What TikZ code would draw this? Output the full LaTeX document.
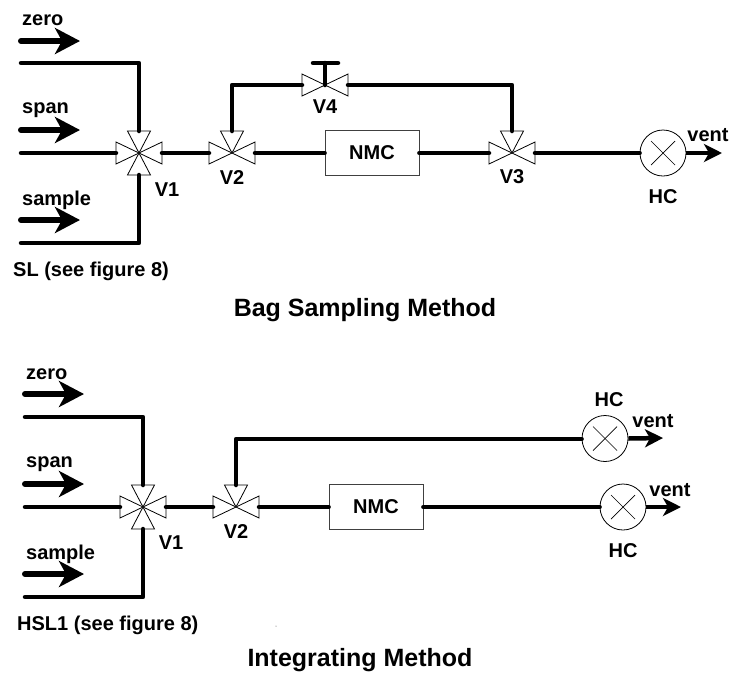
\documentclass[tikz,border=0pt]{standalone}
\usepackage{fontspec}
\setmainfont{Liberation Sans}
\usetikzlibrary{arrows.meta,calc}
\tikzset{
  x=1pt,y=-1pt,
  pipe/.style={line width=4.5pt,line cap=round,line join=round,black},
  feed/.style={line width=6pt,line cap=round,-{Stealth[length=25pt,width=26pt,inset=7pt]},black},
  ventline/.style={line width=4.5pt,-{Stealth[length=18pt,width=18pt,inset=5pt]},black},
  small/.style={font=\bfseries\fontsize{20pt}{22pt}\selectfont,inner sep=0pt,text=black},
  ttl/.style={font=\bfseries\fontsize{25pt}{27pt}\selectfont,inner sep=0pt,text=black},
  wedge/.style={draw=black,line width=0.8pt,fill=white},
  box/.style={draw=black!75,line width=0.8pt,fill=white,minimum width=94pt,minimum height=45pt,inner sep=0pt,font=\bfseries\fontsize{20pt}{22pt}\selectfont},
  det/.style={circle,draw=black,line width=0.8pt,fill=white,minimum size=46pt,inner sep=0pt},
}
% valve: name, x, y; defines ports and draws left/right wedges
\newcommand{\valvebase}[3]{%
  \coordinate (#1) at (#2,#3);
  \coordinate (#1-l) at ($(#1)+(-23,0)$);
  \coordinate (#1-r) at ($(#1)+(23,0)$);
  \coordinate (#1-t) at ($(#1)+(0,-22)$);
  \coordinate (#1-b) at ($(#1)+(0,22)$);
  \draw[wedge] (#1) -- ++(-23,-11) -- ++(0,22) -- cycle;
  \draw[wedge] (#1) -- ++(23,-11) -- ++(0,22) -- cycle;
}
\newcommand{\wedgetop}[1]{\draw[wedge] (#1) -- ++(-11.5,-22) -- ++(23,0) -- cycle;}
\newcommand{\wedgebot}[1]{\draw[wedge] (#1) -- ++(-11.5,22) -- ++(23,0) -- cycle;}
\newcommand{\crossin}[1]{%
  \draw[black,line width=0.7pt] ($(#1)+(-12,-12)$) -- ($(#1)+(12,12)$);
  \draw[black,line width=0.7pt] ($(#1)+(-12,12)$) -- ($(#1)+(12,-12)$);
}
\begin{document}
\begin{tikzpicture}
\useasboundingbox (0,0) rectangle (731,681);
% ---------- Bag Sampling Method ----------
\coordinate (zs) at (21,63); \coordinate (zc) at (139,63);
\coordinate (ss) at (21,153);
\coordinate (ps) at (21,243); \coordinate (pc) at (139,243);
\coordinate (va1) at (21,41); \coordinate (vb1) at (80,41);
\coordinate (va2) at (21,130); \coordinate (vb2) at (80,130);
\coordinate (va3) at (21,220); \coordinate (vb3) at (80,220);
\coordinate (tl) at (232,85); \coordinate (tr) at (512,85);
\coordinate (bar1) at (313,63); \coordinate (bar2) at (338,63);
\coordinate (stem) at (325,63);
\coordinate (ve1) at (722,153);

\node[box] (nmc1) at (372,153) {NMC};
\node[det] (hc1) at (663,153) {};
\crossin{hc1}

\valvebase{v1}{139}{153}\wedgetop{v1}\wedgebot{v1}
\valvebase{v2}{232}{153}\wedgetop{v2}
\valvebase{v3}{512}{153}\wedgetop{v3}
\valvebase{v4}{325}{85}

\draw[feed] (va1) -- (vb1);
\draw[feed] (va2) -- (vb2);
\draw[feed] (va3) -- (vb3);
\draw[pipe] (zs) -- (zc) -- (v1-t);
\draw[pipe] (ss) -- (v1-l);
\draw[pipe] (ps) -- (pc) -- (v1-b);
\draw[pipe] (v1-r) -- (v2-l);
\draw[pipe] (v2-r) -- (nmc1.west);
\draw[pipe] (nmc1.east) -- (v3-l);
\draw[pipe] (v3-r) -- (hc1.west);
\draw[pipe] (v2-t) -- (tl) -- (v4-l);
\draw[pipe] (v4-r) -- (tr) -- (v3-t);
\draw[pipe] (v4) -- (stem);
\draw[pipe] (bar1) -- (bar2);
\draw[ventline] (hc1.east) -- (ve1);

\node[small,anchor=west] (tz1) at (22,20) {zero};
\node[small,anchor=west] (ts1) at (22,110) {span};
\node[small,anchor=west] (tp1) at (22,200) {sample};
\node[small] (lv1a) at (167,190) {V1};
\node[small] (lv2a) at (232,178) {V2};
\node[small] (lv3a) at (512,177) {V3};
\node[small] (lv4a) at (325,107) {V4};
\node[small] (lhc1) at (663,197) {HC};
\node[small] (tv1) at (708,135) {vent};
\node[small,anchor=west] (sl) at (13,271) {SL (see figure 8)};
\node[ttl] (title1) at (365,310) {Bag Sampling Method};

% ---------- Integrating Method ----------
\coordinate (zs2) at (25,417); \coordinate (zc2) at (143,417);
\coordinate (ss2) at (25,507);
\coordinate (ps2) at (25,597); \coordinate (pc2) at (143,597);
\coordinate (wa1) at (25,394); \coordinate (wb1) at (84,394);
\coordinate (wa2) at (25,484); \coordinate (wb2) at (84,484);
\coordinate (wa3) at (25,574); \coordinate (wb3) at (84,574);
\coordinate (tl2) at (236,439);
\coordinate (ve2) at (663,438);
\coordinate (ve3) at (681,507);

\node[box] (nmc2) at (376,507) {NMC};
\node[det] (hc2) at (605,438.5) {};
\crossin{hc2}
\node[det] (hc3) at (623,507) {};
\crossin{hc3}

\valvebase{w1}{143}{507}\wedgetop{w1}\wedgebot{w1}
\valvebase{w2}{236}{507}\wedgetop{w2}

\draw[feed] (wa1) -- (wb1);
\draw[feed] (wa2) -- (wb2);
\draw[feed] (wa3) -- (wb3);
\draw[pipe] (zs2) -- (zc2) -- (w1-t);
\draw[pipe] (ss2) -- (w1-l);
\draw[pipe] (ps2) -- (pc2) -- (w1-b);
\draw[pipe] (w1-r) -- (w2-l);
\draw[pipe] (w2-r) -- (nmc2.west);
\draw[pipe] (nmc2.east) -- (hc3.west);
\draw[pipe] (w2-t) -- (tl2) -- (tl2 -| hc2.west);
\draw[ventline] (hc2.east) -- (ve2);
\draw[ventline] (hc3.east) -- (ve3);

\node[small,anchor=west] (tz2) at (26,374) {zero};
\node[small,anchor=west] (ts2) at (26,464) {span};
\node[small,anchor=west] (tp2) at (26,554) {sample};
\node[small] (lv1b) at (171,543) {V1};
\node[small] (lv2b) at (236,532) {V2};
\node[small] (lhc2) at (609,400) {HC};
\node[small] (lhc3) at (623,551) {HC};
\node[small] (tv2) at (653,421) {vent};
\node[small] (tv3) at (670,490) {vent};
\node[small,anchor=west] (hsl) at (17,625) {HSL1 (see figure 8)};
\node[ttl] (title2) at (360,660) {Integrating Method};
\fill[black!70] (276,626) circle (0.5pt);
\end{tikzpicture}
\end{document}
